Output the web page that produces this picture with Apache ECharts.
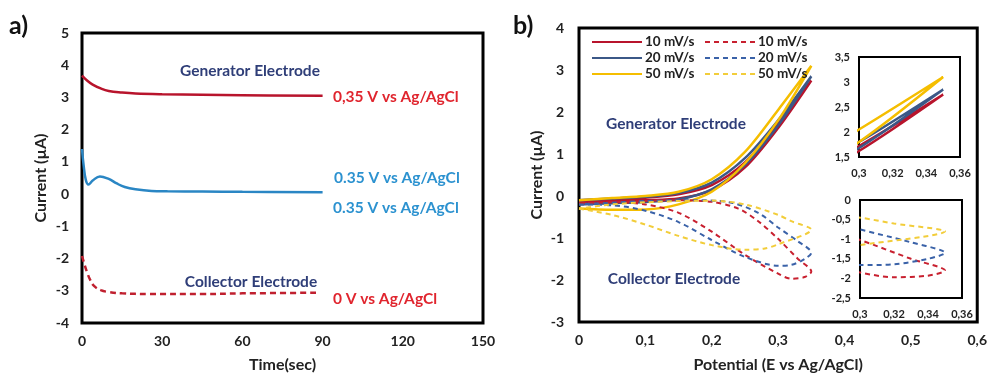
<!DOCTYPE html>
<html>
<head>
<meta charset="utf-8">
<script src="https://cdn.jsdelivr.net/npm/echarts@6/dist/echarts.min.js"></script>
<style>
  html, body { margin: 0; padding: 0; background: #fff; }
  #chart { width: 990px; height: 378px; }
</style>
</head>
<body>
<div id="chart"></div>
<script>
// Panel a) chronoamperometry, [time (s), current (uA)]
const genA = [[0,3.68],[2,3.52],[4,3.4],[7,3.28],[10,3.2],[15,3.15],[20,3.12],[30,3.1],[60,3.07],[90,3.05]];
const blueA = [[0,1.4],[0.6,0.9],[1.4,0.45],[2.4,0.3],[4,0.42],[6.7,0.55],[10,0.47],[13,0.33],[16,0.22],[20,0.15],[26,0.1],[32,0.09],[45,0.08],[60,0.07],[90,0.06]];
const colA = [[0,-1.92],[1,-2.2],[2,-2.45],[3,-2.65],[4.5,-2.85],[7,-2.98],[10,-3.04],[15,-3.08],[25,-3.1],[45,-3.1],[60,-3.08],[89,-3.06]];

// Panel b) CV loops, [potential (V), current (uA)]
const gen10 = [[0,-0.1],[0.05,-0.08],[0.1,-0.04],[0.15,0.04],[0.2,0.26],[0.25,0.8],[0.3,1.72],[0.35,2.75],[0.3,1.62],[0.25,0.68],[0.2,0.14],[0.15,-0.06],[0.1,-0.1],[0.05,-0.13],[0,-0.16]];
const gen20 = [[0,-0.1],[0.05,-0.06],[0.1,-0.02],[0.15,0.07],[0.2,0.32],[0.25,0.9],[0.3,1.8],[0.35,2.85],[0.3,1.68],[0.25,0.74],[0.2,0.16],[0.15,-0.08],[0.1,-0.14],[0.05,-0.17],[0,-0.2]];
const gen50 = [[0,-0.1],[0.05,-0.05],[0.1,0],[0.15,0.1],[0.2,0.4],[0.25,1.05],[0.3,2.05],[0.35,3.1],[0.3,1.8],[0.25,0.78],[0.2,0.1],[0.15,-0.2],[0.1,-0.32],[0.05,-0.33],[0,-0.3]];
const col10 = [[0,-0.18],[0.05,-0.15],[0.1,-0.2],[0.15,-0.4],[0.2,-0.85],[0.25,-1.4],[0.3,-1.85],[0.32,-1.97],[0.34,-1.93],[0.35,-1.8],[0.33,-1.5],[0.3,-1.02],[0.27,-0.6],[0.24,-0.3],[0.2,-0.14],[0.15,-0.1],[0.1,-0.12],[0.05,-0.15],[0,-0.18]];
const col20 = [[0,-0.2],[0.05,-0.22],[0.1,-0.35],[0.15,-0.62],[0.2,-1.05],[0.25,-1.45],[0.3,-1.66],[0.32,-1.64],[0.34,-1.5],[0.35,-1.35],[0.33,-1.08],[0.3,-0.75],[0.27,-0.4],[0.23,-0.16],[0.18,-0.1],[0.1,-0.12],[0.05,-0.16],[0,-0.2]];
const col50 = [[0,-0.3],[0.05,-0.45],[0.1,-0.68],[0.15,-0.95],[0.2,-1.17],[0.25,-1.28],[0.28,-1.25],[0.3,-1.15],[0.35,-0.8],[0.32,-0.6],[0.3,-0.45],[0.25,-0.2],[0.2,-0.11],[0.15,-0.12],[0.1,-0.15],[0.05,-0.2],[0,-0.3]];
const rates = ['10 mV/s', '20 mV/s', '50 mV/s'];

const FONT = 'Lato';
const solidColors = ['#B8142C', '#3B5887', '#F5BE00'];
const dashColors = ['#C8202F', '#3A62A8', '#F2CD3A'];

const chart = echarts.init(document.getElementById('chart'));

function comma(v) { return String(v).replace('.', ','); }

const tickLabel = { color: '#222', fontFamily: FONT, fontWeight: 'bold', fontSize: 14 };
const smallLabel = { color: '#222', fontFamily: FONT, fontWeight: 'bold', fontSize: 11 };
const titleStyle = { fontFamily: FONT, fontWeight: 'bold', fontSize: 16, color: '#222' };

function axisBase(extra) {
    return Object.assign({
        type: 'value',
        axisLine: { show: false },
        axisTick: { show: false },
        splitLine: { show: false }
    }, extra);
}

const series = [];
// panel a
series.push({ type: 'line', xAxisIndex: 0, yAxisIndex: 0, data: genA, symbol: 'none', smooth: 0.4,
    lineStyle: { color: '#B8142C', width: 2.5 } });
series.push({ type: 'line', xAxisIndex: 0, yAxisIndex: 0, data: blueA, symbol: 'none', smooth: 0.4,
    lineStyle: { color: '#2A86C4', width: 2.5 } });
series.push({ type: 'line', xAxisIndex: 0, yAxisIndex: 0, data: colA, symbol: 'none', smooth: 0.4,
    lineStyle: { color: '#C0202F', width: 2.5, type: [6, 4] } });

// panel b main + insets
const gens = [gen10, gen20, gen50];
const cols = [col10, col20, col50];
rates.forEach(function(r, i) {
    series.push({ name: 'G' + r, type: 'line', xAxisIndex: 1, yAxisIndex: 1, data: gens[i], symbol: 'none',
        smooth: 0.3, lineStyle: { color: solidColors[i], width: 2.5 }, itemStyle: { color: solidColors[i] } });
    series.push({ type: 'line', xAxisIndex: 2, yAxisIndex: 2, data: gens[i], symbol: 'none',
        smooth: 0.3, lineStyle: { color: solidColors[i], width: 2.5 } });
});
rates.forEach(function(r, i) {
    series.push({ name: 'C' + r, type: 'line', xAxisIndex: 1, yAxisIndex: 1, data: cols[i], symbol: 'none',
        smooth: 0.3, lineStyle: { color: dashColors[i], width: 2, type: [5, 4] }, itemStyle: { color: dashColors[i] } });
    series.push({ type: 'line', xAxisIndex: 3, yAxisIndex: 3, data: cols[i], symbol: 'none',
        smooth: 0.3, lineStyle: { color: dashColors[i], width: 2, type: [5, 4] } });
});

function txt(x, y, text, color, align) {
    return { type: 'text', x: x, y: y, style: { text: text, fill: color, font: 'bold 15.5px ' + FONT,
        align: align || 'left', verticalAlign: 'middle' } };
}

const legendBase = {
    orient: 'vertical', itemWidth: 50, itemHeight: 14, itemGap: 2, selectedMode: false,
    itemStyle: { opacity: 0 },
    formatter: function(n) { return n.slice(1); },
    textStyle: { color: '#222', fontFamily: FONT, fontWeight: 'bold', fontSize: 13.5, padding: [0, 0, 0, -2] }
};

chart.setOption({
    animation: false,
    textStyle: { fontFamily: FONT },
    grid: [
        { left: 82, top: 33, width: 401, height: 298, show: true, borderColor: '#000', borderWidth: 3 },
        { left: 579, top: 28, width: 401, height: 299, show: true, borderColor: '#000', borderWidth: 3 },
        { left: 859, top: 57, width: 101, height: 100, show: true, borderColor: '#000', borderWidth: 2 },
        { left: 860, top: 200, width: 102, height: 98, show: true, borderColor: '#000', borderWidth: 2 }
    ],
    xAxis: [
        axisBase({ gridIndex: 0, min: 0, max: 150, interval: 30, axisLabel: Object.assign({ margin: 11 }, tickLabel),
            name: 'Time(sec)', nameLocation: 'middle', nameGap: 34, nameTextStyle: titleStyle }),
        axisBase({ gridIndex: 1, min: 0, max: 0.6, interval: 0.1, axisLabel: Object.assign({ margin: 11, formatter: comma }, tickLabel),
            name: 'Potential (E vs Ag/AgCl)', nameLocation: 'middle', nameGap: 35, nameTextStyle: titleStyle }),
        axisBase({ gridIndex: 2, min: 0.3, max: 0.36, interval: 0.02, axisLabel: Object.assign({ margin: 11, formatter: comma }, smallLabel) }),
        axisBase({ gridIndex: 3, min: 0.3, max: 0.36, interval: 0.02, axisLabel: Object.assign({ margin: 11, formatter: comma }, smallLabel) })
    ],
    yAxis: [
        axisBase({ gridIndex: 0, min: -4, max: 5, interval: 1, axisLabel: Object.assign({ margin: 13 }, tickLabel),
            name: 'Current (µA)', nameLocation: 'middle', nameGap: 33, nameTextStyle: titleStyle }),
        axisBase({ gridIndex: 1, min: -3, max: 4, interval: 1, axisLabel: Object.assign({ margin: 15 }, tickLabel),
            name: 'Current (µA)', nameLocation: 'middle', nameGap: 34, nameTextStyle: titleStyle }),
        axisBase({ gridIndex: 2, min: 1.5, max: 3.5, interval: 0.5, axisLabel: Object.assign({ margin: 9, formatter: comma }, smallLabel) }),
        axisBase({ gridIndex: 3, min: -2.5, max: 0, interval: 0.5, axisLabel: Object.assign({ margin: 9, formatter: comma }, smallLabel) })
    ],
    legend: [
        Object.assign({ left: 586, top: 30, data: rates.map(function(r) { return 'G' + r; }) }, legendBase),
        Object.assign({ left: 699, top: 30, data: rates.map(function(r) { return 'C' + r; }) }, legendBase)
    ],
    graphic: [
        { type: 'text', x: 9, y: 26, style: { text: 'a)', fill: '#111', font: 'bold 25px ' + FONT, verticalAlign: 'middle' } },
        { type: 'text', x: 513, y: 26, style: { text: 'b)', fill: '#111', font: 'bold 25px ' + FONT, verticalAlign: 'middle' } },
        txt(250, 71, 'Generator Electrode', '#2F3E78', 'center'),
        txt(333, 97, '0,35 V vs Ag/AgCl', '#E0252E'),
        txt(334, 178, '0.35 V vs Ag/AgCl', '#2C92D0'),
        txt(333, 208, '0.35 V vs Ag/AgCl', '#2C92D0'),
        txt(251, 282, 'Collector Electrode', '#2F3E78', 'center'),
        txt(333, 299, '0 V vs Ag/AgCl', '#E0252E'),
        txt(676, 124, 'Generator Electrode', '#2F3E78', 'center'),
        txt(674, 279, 'Collector Electrode', '#2F3E78', 'center')
    ],
    series: series
});

window.addEventListener('resize', function() { chart.resize(); });
</script>
</body>
</html>
